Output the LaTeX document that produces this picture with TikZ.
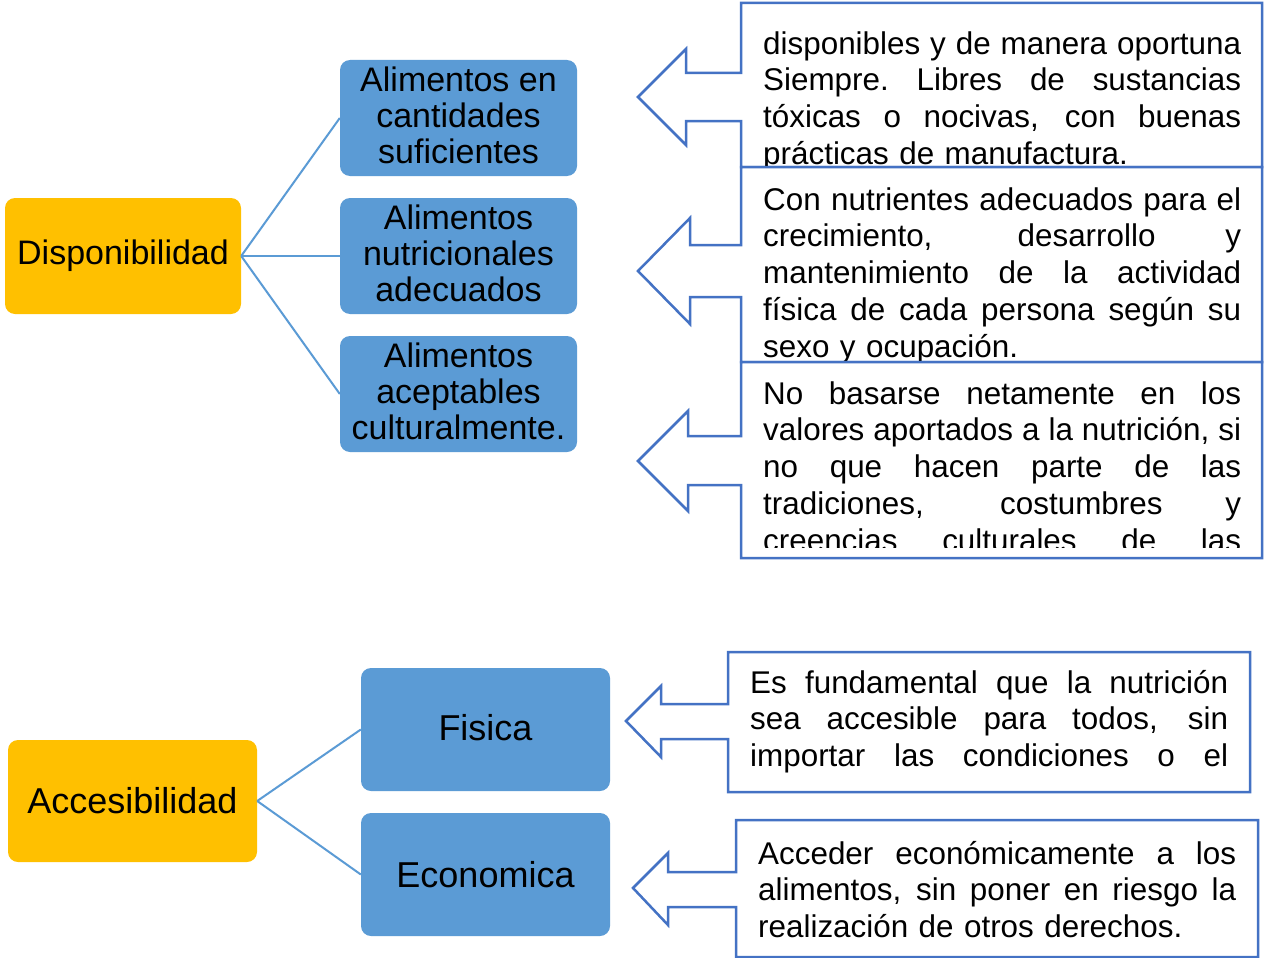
\documentclass[tikz,border=0pt]{standalone}
\usepackage{fontspec}
\setmainfont{Liberation Sans}
\definecolor{gold}{HTML}{FFC000}
\definecolor{sky}{HTML}{5B9BD5}
\definecolor{navy}{HTML}{4472C4}
\newcommand\jline[1]{\makebox[478pt][s]{\spaceskip=0.278em plus 1fil minus 0.12em\xspaceskip=\spaceskip\strut #1}}
\begin{document}
\begin{tikzpicture}[x=1pt,y=-1pt,
 mainbox/.style={rectangle, rounded corners=10pt, fill=gold, text=black, inner sep=0pt, align=center},
 subbox/.style={rectangle, rounded corners=10pt, fill=sky, text=black, inner sep=0pt, align=center},
 link/.style={draw=sky, line width=2pt},
 callout/.style={draw=navy, fill=white, line width=2.5pt, line join=miter},
 calltext/.style={anchor=north west, inner sep=0pt, text width=478pt, align=left, font=\fontsize{31.4}{36.8}\selectfont}
]
\useasboundingbox[fill=white] (0,0) rectangle (1264,958);

% ---------- Disponibilidad ----------
\node[mainbox, minimum width=236pt, minimum height=116pt, font=\fontsize{34}{36}\selectfont] (dispo) at (123,256) {Disponibilidad};
\begin{scope}[every node/.style={subbox, minimum width=237pt, minimum height=116pt, font=\fontsize{34}{36}\selectfont}]
\node (b1) at (458.5,118) {Alimentos en\\cantidades\\suficientes\rule[-6pt]{0pt}{1pt}};
\node (b2) at (458.5,256) {Alimentos\\nutricionales\\adecuados\rule[-6pt]{0pt}{1pt}};
\node (b3) at (458.5,394) {Alimentos\\aceptables\\culturalmente.\rule[-6pt]{0pt}{1pt}};
\end{scope}
\draw[link] (dispo.east) -- (b1.west);
\draw[link] (dispo.east) -- (b2.west);
\draw[link] (dispo.east) -- (b3.west);

% callout 1
\draw[callout] (741,3) -- (1262,3) -- (1262,167) -- (741,167) -- (741,121) -- (686,121) -- (686,145) -- (638,97) -- (686,49) -- (686,73) -- (741,73) -- cycle;
\begin{scope}
\clip (741,3) rectangle (1262,165);
\node[calltext] (t1) at (763,28.2) {\jline{disponibles y de manera oportuna}\\
\jline{Siempre. Libres de sustancias}\\
\jline{tóxicas o nocivas, con buenas}\\
\strut prácticas de manufactura.};
\end{scope}

% callout 2
\draw[callout] (741,167) -- (1262,167) -- (1262,362) -- (741,362) -- (741,297) -- (690,297) -- (690,324) -- (638,271) -- (690,218) -- (690,245) -- (741,245) -- cycle;
\node[calltext] (t2) at (763,184.2) {\jline{Con nutrientes adecuados para el}\\
\jline{crecimiento, desarrollo y}\\
\jline{mantenimiento de la actividad}\\
\jline{física de cada persona según su}\\
\strut sexo y ocupación.};

% callout 3
\draw[callout] (741,362) -- (1262,362) -- (1262,558) -- (741,558) -- (741,485) -- (688,485) -- (688,511) -- (638,461) -- (688,411) -- (688,436) -- (741,436) -- cycle;
\begin{scope}
\clip (741,362) rectangle (1262,547);
\node[calltext] (t3) at (763,378.2) {\jline{No basarse netamente en los}\\
\jline{valores aportados a la nutrición, si}\\
\jline{no que hacen parte de las}\\
\jline{tradiciones, costumbres y}\\
\jline{creencias culturales de las}};
\end{scope}

% ---------- Accesibilidad ----------
\node[mainbox, minimum width=249pt, minimum height=122pt, font=\fontsize{36}{38}\selectfont] (acc) at (132.5,801) {Accesibilidad};
\node[subbox, minimum width=249pt, minimum height=123pt, font=\fontsize{36}{38}\selectfont] (fis) at (485.5,729.5) {Fisica\rule[-5pt]{0pt}{1pt}};
\node[subbox, minimum width=249pt, minimum height=123pt, font=\fontsize{36}{38}\selectfont] (eco) at (485.5,874.5) {Economica};
\draw[link] (acc.east) -- (fis.west);
\draw[link] (acc.east) -- (eco.west);

% callout 4
\draw[callout] (728,652) -- (1250,652) -- (1250,792) -- (728,792) -- (728,739) -- (661,739) -- (661,757) -- (626,721) -- (661,686) -- (661,704) -- (728,704) -- cycle;
\begin{scope}
\clip (728,652) rectangle (1250,790);
\node[calltext] (t4) at (750,667.2) {\jline{Es fundamental que la nutrición}\\
\jline{sea accesible para todos, sin}\\
\jline{importar las condiciones o el}};
\end{scope}

% callout 5
\draw[callout] (736,820) -- (1258,820) -- (1258,957) -- (736,957) -- (736,907) -- (668,907) -- (668,925) -- (633,888) -- (668,853) -- (668,872) -- (736,872) -- cycle;
\node[calltext] (t5) at (758,838.2) {\jline{Acceder económicamente a los}\\
\jline{alimentos, sin poner en riesgo la}\\
\strut realización de otros derechos.};
\end{tikzpicture}
\end{document}
